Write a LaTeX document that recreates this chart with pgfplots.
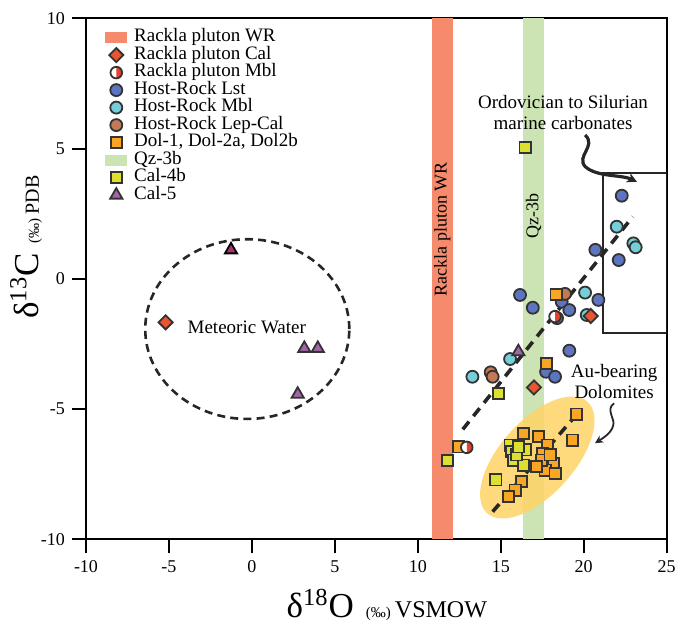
\documentclass[border=0pt]{standalone}
\usepackage{pgfplots}
\pgfplotsset{compat=1.18}
\usepackage{fontspec}
\setmainfont{Liberation Serif}
\usetikzlibrary{arrows.meta,shapes.geometric}

\definecolor{bandred}{HTML}{F58A6C}
\definecolor{bandgreen}{HTML}{CCE4B4}
\definecolor{ellyellow}{HTML}{FFD466}
\definecolor{calred}{HTML}{E8552F}
\definecolor{mblred}{HTML}{E2432A}
\definecolor{lstblue}{HTML}{5D75C1}
\definecolor{mblcyan}{HTML}{74CFD9}
\definecolor{lepbrown}{HTML}{C27A56}
\definecolor{dolorange}{HTML}{F8A624}
\definecolor{calyellow}{HTML}{DEE030}
\definecolor{calpurple}{HTML}{A465A8}
\definecolor{calmagenta}{HTML}{A63470}
\definecolor{edge}{HTML}{333333}

% half white / half red circle
\pgfdeclareplotmark{halfcirc}{%
  \pgfpathcircle{\pgfpointorigin}{\pgfplotmarksize}%
  \pgfsetfillcolor{white}\pgfusepathqfill
  \pgfpathmoveto{\pgfqpoint{0pt}{\pgfplotmarksize}}%
  \pgfpatharc{90}{-90}{\pgfplotmarksize}%
  \pgfpathclose
  \pgfsetfillcolor{mblred}\pgfusepathqfill
  \pgfpathcircle{\pgfpointorigin}{\pgfplotmarksize}%
  \pgfusepathqstroke
}

\pgfplotsset{
  pt/.style={only marks, forget plot},
  sCal/.style={only marks, mark=square*, mark size=2.5pt, mark options={draw=edge, line width=0.9pt, fill=calred, rotate=45}},
  sMbl/.style={only marks, mark=halfcirc, mark size=2.9pt, mark options={draw=edge, line width=0.9pt}},
  sLst/.style={only marks, mark=*, mark size=3pt, mark options={draw=edge, line width=0.9pt, fill=lstblue}},
  sHMbl/.style={only marks, mark=*, mark size=3pt, mark options={draw=edge, line width=0.9pt, fill=mblcyan}},
  sLep/.style={only marks, mark=*, mark size=3pt, mark options={draw=edge, line width=0.9pt, fill=lepbrown}},
  sDol/.style={only marks, mark=square*, mark size=2.8pt, mark options={draw=edge, line width=0.9pt, fill=dolorange}},
  sC4/.style={only marks, mark=square*, mark size=2.8pt, mark options={draw=edge, line width=0.9pt, fill=calyellow}},
  sC5/.style={only marks, mark=triangle*, mark size=3.5pt, mark options={draw=edge, line width=0.9pt, fill=calpurple}},
}

\begin{document}
\begin{tikzpicture}
\begin{axis}[
  scale only axis,
  width=290.35pt, height=260.5pt,
  xmin=-10, xmax=25, ymin=-10, ymax=10,
  xtick={-10,-5,...,25}, ytick={-10,-5,...,10},
  tick align=outside, tick pos=left,
  major tick length=7pt,
  axis line style={line width=1pt},
  every tick/.style={black, line width=1pt},
  ticklabel style={font=\fontsize{9}{10}\selectfont},
  /pgf/number format/assume math mode=true,
  xlabel={{\fontsize{17.5}{20}\selectfont δ\textsuperscript{18}O}\hspace{6pt}{\fontsize{7.5}{9}\selectfont(‰)}\hspace{2pt}{\fontsize{12}{14}\selectfont VSMOW}},
  ylabel={{\fontsize{17.5}{20}\selectfont δ\textsuperscript{13}C}\hspace{5pt}{\fontsize{7.5}{9}\selectfont(‰)}\hspace{2pt}{\fontsize{10}{12}\selectfont PDB}},
  xlabel style={at={(axis description cs:0.518,-0.126)}, anchor=center},
  ylabel style={at={(axis description cs:-0.103,0.561)}, anchor=center},
  legend image code/.code={\path[draw=none, fill=none] (0pt,-3pt) rectangle (10.5pt,3pt); \draw[#1] plot coordinates {(5.25pt,0pt)};},
  legend style={draw=none, fill=none, at={(axis cs:-8.855,9.61)}, anchor=north west,
    inner sep=0pt, font=\fontsize{9.5}{10}\selectfont,
    nodes={inner sep=0.5pt, text height=6pt, text depth=1.75pt},
    /tikz/every odd column/.append style={column sep=3pt}},
  legend cell align=left,
]

% legend
\addlegendimage{legend image code/.code={\fill[bandred] (0pt,-2.6pt) rectangle (10.5pt,2.6pt);}}
\addlegendentry{Rackla pluton WR}
\addlegendimage{sCal}
\addlegendentry{Rackla pluton Cal}
\addlegendimage{sMbl}
\addlegendentry{Rackla pluton Mbl}
\addlegendimage{sLst}
\addlegendentry{Host-Rock Lst}
\addlegendimage{sHMbl}
\addlegendentry{Host-Rock Mbl}
\addlegendimage{sLep}
\addlegendentry{Host-Rock Lep-Cal}
\addlegendimage{sDol}
\addlegendentry{Dol-1, Dol-2a, Dol2b}
\addlegendimage{legend image code/.code={\fill[bandgreen] (0pt,-2.6pt) rectangle (10.5pt,2.6pt);}}
\addlegendentry{Qz-3b}
\addlegendimage{sC4}
\addlegendentry{Cal-4b}
\addlegendimage{sC5}
\addlegendentry{Cal-5}

% bands
\addplot[forget plot, draw=none, fill=bandred] coordinates {(10.85,-10) (12.1,-10) (12.1,10) (10.85,10)} -- cycle;
\addplot[forget plot, draw=none, fill=bandgreen] coordinates {(16.36,-10) (17.6,-10) (17.6,10) (16.36,10)} -- cycle;

% Au-bearing dolomites field
\node[ellipse, draw=none, fill=ellyellow, fill opacity=0.85, inner sep=0pt,
      minimum width=75pt, minimum height=37pt, rotate=48] at (axis cs:17.2,-6.86) {};

% trend lines
\addplot[forget plot, black!85, line width=1.8pt, dash pattern=on 5pt off 3.5pt] coordinates {(12.71,-5.78) (22.95,2.38)};
\addplot[forget plot, black!85, line width=1.8pt, dash pattern=on 5pt off 3.5pt] coordinates {(14.51,-8.94) (19.84,-5.01)};

% Ordovician to Silurian box and meteoric water field
\draw[black!85, line width=1pt] (axis cs:21.18,-2.07) rectangle (axis cs:25,4.07);
\draw[black!85, line width=1.3pt, dash pattern=on 4pt off 2.6pt] (axis cs:-0.28,-1.93) ellipse [x radius=6.15, y radius=3.45];

% data
\addplot[sLst, pt] coordinates {
  (16.16,-0.62) (16.93,-1.11) (18.67,-0.88) (19.13,-1.20) (20.88,-0.81)
  (19.13,-2.76) (17.73,-3.57) (18.27,-3.76) (22.29,3.19) (20.70,1.11)
  (22.11,0.72) (18.39,-1.51)
};
\addplot[sHMbl, pt] coordinates {
  (20.08,-0.53) (20.18,-1.39) (15.56,-3.08) (13.29,-3.76)
  (21.99,2.00) (22.99,1.36) (23.13,1.21)
};
\addplot[sLep, pt] coordinates {
  (18.87,-0.58) (14.39,-3.59) (14.51,-3.76)
};
\addplot[sDol, pt] coordinates {
  (18.33,-0.60) (17.77,-3.24) (19.58,-5.19) (19.34,-6.19) (12.44,-6.45)
  (16.36,-5.93) (17.27,-6.06) (17.81,-6.38) (17.53,-6.70) (18.17,-7.08)
  (17.67,-7.34) (18.27,-7.47) (17.47,-6.96) (17.97,-6.76) (17.17,-7.21)
  (16.26,-7.79) (15.86,-8.11) (15.46,-8.36)
};
\addplot[sC4, pt] coordinates {
  (14.86,-4.40) (11.78,-6.98) (15.56,-6.38) (16.46,-6.57) (15.66,-6.64)
  (15.76,-6.96) (16.36,-7.15) (15.96,-6.76) (14.71,-7.72) (16.06,-6.45)
  (16.46,5.05)
};
\addplot[sC5, pt] coordinates {
  (3.16,-2.67) (3.97,-2.67) (2.76,-4.43) (16.06,-2.80)
};
\addplot[sC5, pt, mark options={draw=black, line width=0.9pt, fill=calmagenta}] coordinates {(-1.26,1.11)};
\addplot[sMbl, pt] coordinates {(18.27,-1.45) (12.95,-6.47)};
\addplot[sCal, pt] coordinates {(-5.20,-1.67) (20.42,-1.43) (17.00,-4.17)};

% annotations
\node[rotate=90, font=\fontsize{9}{10}\selectfont] at (axis cs:11.47,1.91) {Rackla pluton WR};
\node[rotate=90, font=\fontsize{9}{10}\selectfont] at (axis cs:16.98,2.41) {Qz-3b};
\node[font=\fontsize{9.5}{10}\selectfont] at (axis cs:-0.31,-1.86) {Meteoric Water};
\node[align=center, font=\fontsize{9.5}{10.5}\selectfont] at (axis cs:18.75,6.4) {Ordovician to Silurian\\marine carbonates};
\node[align=center, font=\fontsize{9.5}{10.5}\selectfont] at (axis cs:21.83,-3.96) {Au-bearing\\Dolomites};

\draw[black!85, line width=1.6pt, -{Stealth[length=5pt,width=5pt]}]
  (axis cs:20.08,5.52) .. controls (axis cs:20.8,5.1) and (axis cs:19.5,4.7) .. (axis cs:20.1,4.3)
  .. controls (axis cs:20.8,3.9) and (axis cs:22.3,4.0) .. (axis cs:23.21,3.72);
\draw[black!85, line width=0.9pt, -{Stealth[length=4pt,width=4pt]}]
  (axis cs:21.83,-4.78) .. controls (axis cs:21.3,-5.0) and (axis cs:21.9,-5.4) .. (axis cs:21.78,-5.61)
  .. controls (axis cs:21.7,-5.9) and (axis cs:21.2,-6.1) .. (axis cs:20.68,-6.31);
\end{axis}
\pgfresetboundingbox
\path[use as bounding box] ([xshift=-43pt,yshift=-43.35pt]current axis.south west) rectangle ([xshift=5.65pt,yshift=9.15pt]current axis.north east);
\end{tikzpicture}
\end{document}
